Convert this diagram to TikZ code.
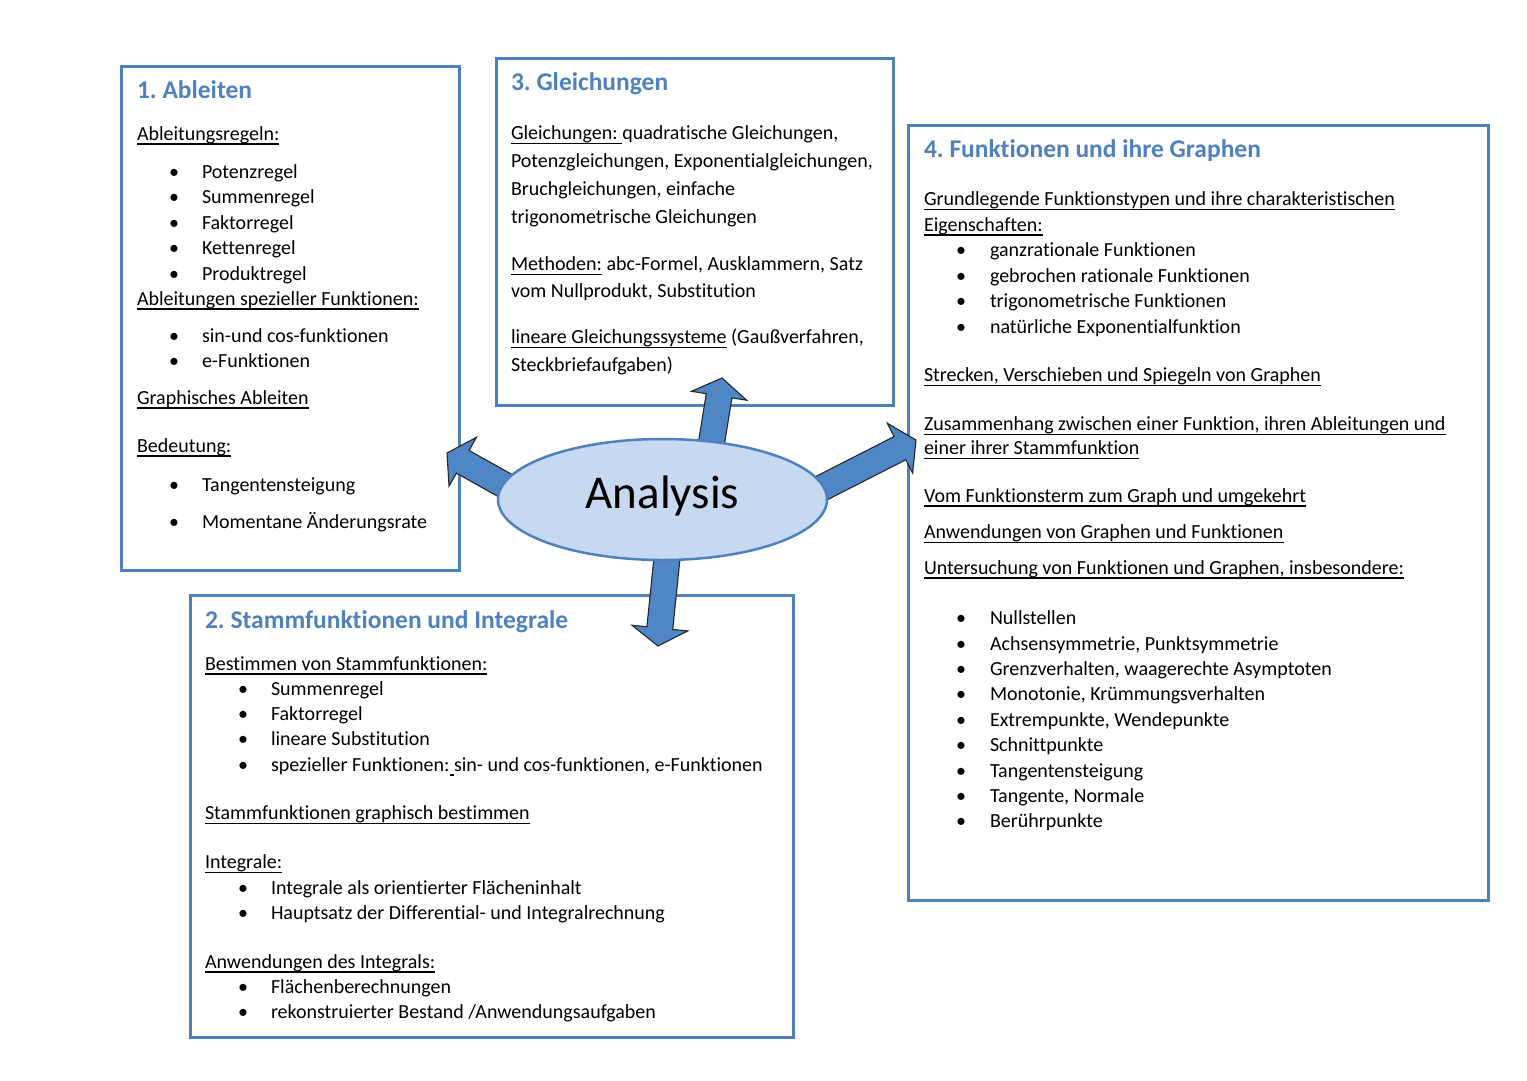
\documentclass[tikz,border=0pt]{standalone}
\usepackage{fontspec}
\setmainfont{Carlito}[Ligatures=NoCommon]
\usetikzlibrary{shapes.geometric,calc}
\frenchspacing
\newsavebox{\ulnbox}
\newcommand{\uln}[1]{\sbox{\ulnbox}{#1}\rlap{\rule[-4.5pt]{\wd\ulnbox}{1.3pt}}\usebox{\ulnbox}}
\definecolor{accent}{HTML}{4F81BD}
\definecolor{ellfill}{HTML}{C6D9F1}
\definecolor{arrfill}{HTML}{4F86C6}
\tikzset{
  box/.style={draw=accent, line width=3pt, outer sep=0pt, inner sep=0pt, anchor=north west},
  txt/.style={anchor=base west, inner sep=0pt, outer sep=0pt, font=\frenchspacing\fontsize{20}{24}\selectfont},
  bul/.style={anchor=base, inner sep=0pt, outer sep=0pt, font=\fontsize{20}{24}\selectfont},
  head/.style={anchor=base west, inner sep=0pt, outer sep=0pt, font=\frenchspacing\bfseries\fontsize{25.5}{30}\selectfont, text=accent},
  blockarrow/.style={fill=arrfill, draw=black!85, line width=1.1pt, line join=miter},
  ell/.style={ellipse, draw=accent, line width=2.5pt, fill=ellfill, inner sep=0pt, outer sep=0pt},
}
\newcommand{\tline}[4]{\node[txt] (#1) at (#2,#3) {#4};}
\newcommand{\bline}[5]{\node[bul] (#1b) at (#2,#4) {•};\node[txt] (#1) at (#3,#4) {#5};}
\newcommand{\blockarr}[3]{%
  \coordinate (#1H) at ($(#3)!18pt!(#2)$);
  \draw[blockarrow] ($(#2)!13pt!90:(#3)$) -- ($(#1H)!13pt!90:(#3)$) -- ($(#1H)!28pt!90:(#3)$) -- (#3)
    -- ($(#1H)!28pt!-90:(#3)$) -- ($(#1H)!13pt!-90:(#3)$) -- ($(#2)!13pt!-90:(#3)$) -- cycle;}
\begin{document}
\begin{tikzpicture}[x=1pt,y=-1pt]
\fill[white] (0,0) rectangle (1527,1080);
\useasboundingbox (0,0) rectangle (1527,1080);

% boxes
\node[box, minimum width=338pt, minimum height=504pt] (box1) at (121,66) {};
\node[box, minimum width=397pt, minimum height=347pt] (box3) at (496,58) {};
\node[box, minimum width=580pt, minimum height=775pt] (box4) at (908,125) {};
\node[box, minimum width=603pt, minimum height=442pt] (box2) at (190,595) {};

% Box 1
\node[head] (h1) at (137,98.5) {1. Ableiten};
\tline{a0}{137}{140}{\uln{Ableitungsregeln:}}
\bline{a1}{174}{202}{178}{Potenzregel}
\bline{a2}{174}{202}{203.5}{Summenregel}
\bline{a3}{174}{202}{229}{Faktorregel}
\bline{a4}{174}{202}{254.5}{Kettenregel}
\bline{a5}{174}{202}{280}{Produktregel}
\tline{a6}{137}{305}{\uln{Ableitungen spezieller Funktionen:}}
\bline{a7}{174}{202}{342}{sin-und cos-funktionen}
\bline{a8}{174}{202}{367}{e-Funktionen}
\tline{a9}{137}{404}{\uln{Graphisches Ableiten}}
\tline{a10}{137}{452}{\uln{Bedeutung:}}
\bline{a11}{174}{202}{491}{Tangentensteigung}
\bline{a12}{174}{202}{528}{Momentane Änderungsrate}

% Box 3
\node[head] (h3) at (511,90.5) {3. Gleichungen};
\tline{g1}{511}{139.5}{\uln{Gleichungen:\ }quadratische Gleichungen,}
\tline{g2}{511}{167.5}{Potenzgleichungen, Exponentialgleichungen,}
\tline{g3}{511}{195}{Bruchgleichungen, einfache}
\tline{g4}{511}{223}{trigonometrische Gleichungen}
\tline{g5}{511}{270.5}{\uln{Methoden:} abc-Formel, Ausklammern, Satz}
\tline{g6}{511}{297.5}{vom Nullprodukt, Substitution}
\tline{g7}{511}{343.5}{\uln{lineare Gleichungssysteme} (Gaußverfahren,}
\tline{g8}{511}{371}{Steckbriefaufgaben)}

% Box 4
\node[head] (h4) at (924,157.5) {4. Funktionen und ihre Graphen};
\tline{f1}{924}{205.5}{\uln{Grundlegende Funktionstypen und ihre charakteristischen}}
\tline{f2}{924}{231}{\uln{Eigenschaften:}}
\bline{f3}{961}{990}{256.5}{ganzrationale Funktionen}
\bline{f4}{961}{990}{282}{gebrochen rationale Funktionen}
\bline{f5}{961}{990}{307.5}{trigonometrische Funktionen}
\bline{f6}{961}{990}{333}{natürliche Exponentialfunktion}
\tline{f7}{924}{381.5}{\uln{Strecken, Verschieben und Spiegeln von Graphen}}
\tline{f8}{924}{430.5}{\uln{Zusammenhang zwischen einer Funktion, ihren Ableitungen und}}
\tline{f9}{924}{454.5}{\uln{einer ihrer Stammfunktion}}
\tline{f10}{924}{502}{\uln{Vom Funktionsterm zum Graph und umgekehrt}}
\tline{f11}{924}{538.5}{\uln{Anwendungen von Graphen und Funktionen}}
\tline{f12}{924}{574}{\uln{Untersuchung von Funktionen und Graphen, insbesondere:}}
\bline{f13}{961}{990}{624.5}{Nullstellen}
\bline{f14}{961}{990}{650}{Achsensymmetrie, Punktsymmetrie}
\bline{f15}{961}{990}{675}{Grenzverhalten, waagerechte Asymptoten}
\bline{f16}{961}{990}{700.5}{Monotonie, Krümmungsverhalten}
\bline{f17}{961}{990}{726.5}{Extrempunkte, Wendepunkte}
\bline{f18}{961}{990}{751.5}{Schnittpunkte}
\bline{f19}{961}{990}{777.5}{Tangentensteigung}
\bline{f20}{961}{990}{802}{Tangente, Normale}
\bline{f21}{961}{990}{827.5}{Berührpunkte}

% Box 2
\node[head] (h2) at (205,628.5) {2. Stammfunktionen und Integrale};
\tline{s1}{205}{670}{\uln{Bestimmen von Stammfunktionen:}}
\bline{s2}{243}{271}{695}{Summenregel}
\bline{s3}{243}{271}{720.5}{Faktorregel}
\bline{s4}{243}{271}{745.5}{lineare Substitution}
\bline{s5}{243}{271}{771}{spezieller Funktionen:\uln{\ }sin- und cos-funktionen, e-Funktionen}
\tline{s6}{205}{819.5}{\uln{Stammfunktionen graphisch bestimmen}}
\tline{s7}{205}{868.5}{\uln{Integrale:}}
\bline{s8}{243}{271}{894}{Integrale als orientierter Flächeninhalt}
\bline{s9}{243}{271}{919.5}{Hauptsatz der Differential- und Integralrechnung}
\tline{s10}{205}{968}{\uln{Anwendungen des Integrals:}}
\bline{s11}{243}{271}{993}{Flächenberechnungen}
\bline{s12}{243}{271}{1018.5}{rekonstruierter Bestand /Anwendungsaufgaben}

% arrows from the centre
\coordinate (upS) at (709.5,455);
\coordinate (upT) at (722,378);
\coordinate (leS) at (518.5,493);
\coordinate (leT) at (447,453);
\coordinate (riS) at (810,494);
\coordinate (riT) at (916,440);
\coordinate (doS) at (667.8,550);
\coordinate (doT) at (658,646);
\blockarr{up}{upS}{upT}
\blockarr{le}{leS}{leT}
\blockarr{ri}{riS}{riT}
\blockarr{do}{doS}{doT}

% centre ellipse
\node[ell, minimum width=329pt, minimum height=121pt] (ana) at (662.5,499.5) {};
\node[anchor=base, inner sep=0pt, font=\fontsize{47}{50}\selectfont] (analabel) at (662.5,508) {Analysis};
\end{tikzpicture}
\end{document}
